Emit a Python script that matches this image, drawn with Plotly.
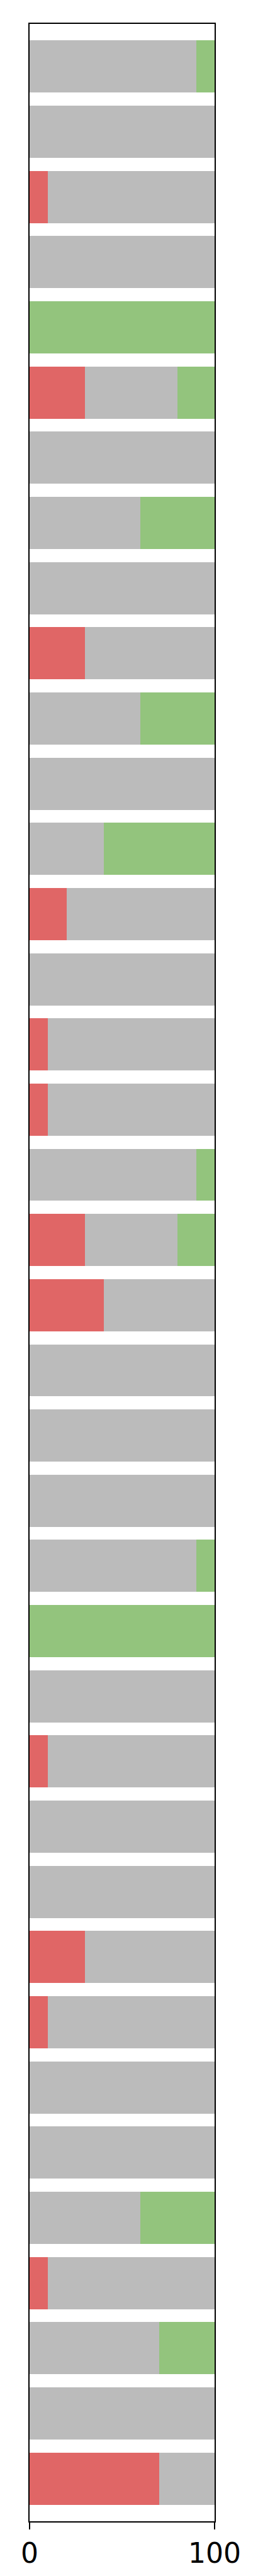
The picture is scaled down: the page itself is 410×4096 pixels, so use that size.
import plotly.graph_objects as go

rows = list(range(38))
red = [0, 0, 10, 0, 0, 30, 0, 0, 0, 30, 0, 0, 0, 20, 0, 10, 10, 0, 30, 40,
       0, 0, 0, 0, 0, 0, 10, 0, 0, 30, 10, 0, 0, 0, 10, 0, 0, 70]
gray = [90, 100, 90, 100, 0, 50, 100, 60, 100, 70, 60, 100, 40, 80, 100, 90, 90, 90, 50, 60,
        100, 100, 100, 90, 0, 100, 90, 100, 100, 70, 90, 100, 100, 60, 90, 70, 100, 30]
green = [10, 0, 0, 0, 100, 20, 0, 40, 0, 0, 40, 0, 60, 0, 0, 0, 0, 10, 20, 0,
         0, 0, 0, 10, 100, 0, 0, 0, 0, 0, 0, 0, 0, 40, 0, 30, 0, 0]
xticks = [0, 100]

fig = go.Figure()
for vals, col, name in [(red, "#e06666", "red"), (gray, "#bbbbbb", "gray"), (green, "#93c47d", "green")]:
    fig.add_trace(go.Bar(x=vals, y=rows, orientation="h", width=0.8,
                         marker=dict(color=col, line=dict(width=0)), name=name))

fig.update_layout(
    barmode="stack", width=410, height=4096, showlegend=False,
    plot_bgcolor="white", paper_bgcolor="white",
    margin=dict(l=39, r=77, t=30, b=95, pad=0),
    font=dict(family="DejaVu Sans", size=44, color="black"),
)
fig.update_xaxes(range=[0, 100], tickvals=xticks, ticktext=[str(v) for v in xticks],
                 showgrid=False, zeroline=False, showline=True, linecolor="black",
                 linewidth=1.6, mirror=True, ticks="outside", ticklen=11, tickwidth=1.6,
                 tickcolor="black", tickfont=dict(size=44, family="DejaVu Sans", color="black"))
fig.update_yaxes(range=[37.655, -0.655], showticklabels=False, showgrid=False, zeroline=False,
                 showline=True, linecolor="black", linewidth=1.6, mirror=True, ticks="")

fig.write_html("out.html")
